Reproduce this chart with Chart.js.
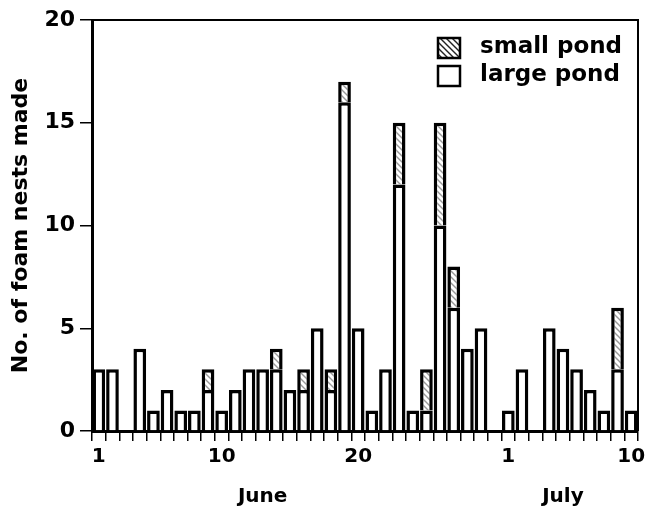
<!DOCTYPE html>
<html>
<head>
<meta charset="utf-8">
<script src="https://cdn.jsdelivr.net/npm/chart.js@4.4.1/dist/chart.umd.min.js"></script>
<style>
  html, body { margin: 0; padding: 0; background: #fff; }
  #wrap { width: 650px; height: 515px; }
</style>
</head>
<body>
<div id="wrap"><canvas id="chart" width="650" height="515"></canvas></div>
<script>
// one entry per day, 1 June to 10 July
const days = [
  "1", "2", "3", "4", "5", "6", "7", "8", "9", "10",
  "11", "12", "13", "14", "15", "16", "17", "18", "19", "20",
  "21", "22", "23", "24", "25", "26", "27", "28", "29", "30",
  "1", "2", "3", "4", "5", "6", "7", "8", "9", "10"
];
const shownDays = ["1", "10", "20"];
const yTicks = [0, 5, 10, 15, 20];

const largePond = [3, 3, 0, 4, 1, 2, 1, 1, 2, 1, 2, 3, 3, 3, 2, 2, 5, 2, 16, 5, 1, 3, 12, 1, 1, 10, 6, 4, 5, 0, 1, 3, 0, 5, 4, 3, 2, 1, 3, 1];
const smallPond = [0, 0, 0, 0, 0, 0, 0, 0, 1, 0, 0, 0, 0, 1, 0, 1, 0, 1, 1, 0, 0, 0, 3, 0, 2, 5, 2, 0, 0, 0, 0, 0, 0, 0, 0, 0, 0, 0, 3, 0];

const months = ["June", "July"];

const FONT = "'DejaVu Sans', 'Liberation Sans', sans-serif";

function hatch(color) {
  const c = document.createElement("canvas");
  c.width = 6;
  c.height = 6;
  const g = c.getContext("2d");
  g.fillStyle = "#fff";
  g.fillRect(0, 0, 6, 6);
  g.strokeStyle = color;
  g.lineWidth = 1.4;
  g.beginPath();
  g.moveTo(-1, -1); g.lineTo(7, 7);
  g.moveTo(-4, 2); g.lineTo(4, 10);
  g.moveTo(2, -4); g.lineTo(10, 4);
  g.stroke();
  return g.createPattern(c, "repeat");
}

const ctx = document.getElementById("chart").getContext("2d");
const barHatch = hatch("#999");
const legendHatch = hatch("#222");

// frame, month names and the in-plot legend
const extras = {
  id: "extras",
  afterDraw(chart) {
    const { ctx: c, chartArea: a } = chart;
    const x = chart.scales.x;
    c.save();
    c.strokeStyle = "#000";
    c.lineWidth = 2;
    c.beginPath();
    c.moveTo(a.left, a.top);
    c.lineTo(a.right, a.top);
    c.lineTo(a.right, a.bottom);
    c.stroke();

    c.fillStyle = "#000";
    c.font = "bold 20px " + FONT;
    c.textAlign = "center";
    c.textBaseline = "middle";
    c.fillText(months[0], x.getPixelForValue(12), 497);
    c.fillText(months[1], x.getPixelForValue(34), 497);

    const bx = a.right - 200;
    c.lineWidth = 2.5;
    c.fillStyle = legendHatch;
    c.fillRect(bx, 38, 22, 20);
    c.strokeRect(bx, 38, 22, 20);
    c.fillStyle = "#fff";
    c.fillRect(bx, 66, 22, 20);
    c.strokeRect(bx, 66, 22, 20);
    c.fillStyle = "#000";
    c.font = "bold 23px " + FONT;
    c.textAlign = "left";
    c.fillText(chart.data.datasets[1].label, bx + 42, 47);
    c.fillText(chart.data.datasets[0].label, bx + 42, 75);
    c.restore();
  }
};

new Chart(ctx, {
  type: "bar",
  data: {
    labels: days,
    datasets: [
      {
        label: "large pond",
        data: largePond,
        backgroundColor: "#fff",
        borderColor: "#000",
        borderWidth: 3.5
      },
      {
        label: "small pond",
        data: smallPond,
        backgroundColor: barHatch,
        borderColor: "#000",
        borderWidth: 3.5
      }
    ]
  },
  options: {
    responsive: false,
    animation: false,
    events: [],
    layout: { padding: { left: 0, right: 12, top: 20, bottom: 0 } },
    datasets: { bar: { barPercentage: 0.93, categoryPercentage: 1 } },
    plugins: {
      legend: { display: false },
      tooltip: { enabled: false }
    },
    scales: {
      x: {
        stacked: true,
        offset: true,
        grid: {
          display: true,
          drawOnChartArea: false,
          drawTicks: true,
          tickLength: 10,
          tickColor: "#000",
          lineWidth: 1.5,
          offset: true
        },
        border: { display: true, color: "#000", width: 3 },
        ticks: {
          autoSkip: false,
          maxRotation: 0,
          minRotation: 0,
          padding: 4,
          color: "#000",
          font: { family: FONT, size: 20, weight: "bold" },
          callback: (v, i) => (shownDays.includes(days[i]) ? days[i] : "")
        },
        afterFit: (s) => { s.height = 84; }
      },
      y: {
        stacked: true,
        min: 0,
        max: 20,
        afterBuildTicks: (s) => { s.ticks = yTicks.map((v) => ({ value: v })); },
        grid: {
          display: true,
          drawOnChartArea: false,
          drawTicks: true,
          tickLength: 12,
          tickColor: "#000",
          lineWidth: 1.5
        },
        border: { display: true, color: "#000", width: 3 },
        ticks: {
          padding: 5,
          color: "#000",
          font: { family: FONT, size: 22, weight: "bold" }
        },
        title: {
          display: true,
          text: "No. of foam nests made",
          color: "#000",
          font: { family: FONT, size: 22, weight: "bold" },
          padding: { top: 8, bottom: 0 }
        },
        afterFit: (s) => { s.width = 92; }
      }
    }
  },
  plugins: [extras]
});
</script>
</body>
</html>
